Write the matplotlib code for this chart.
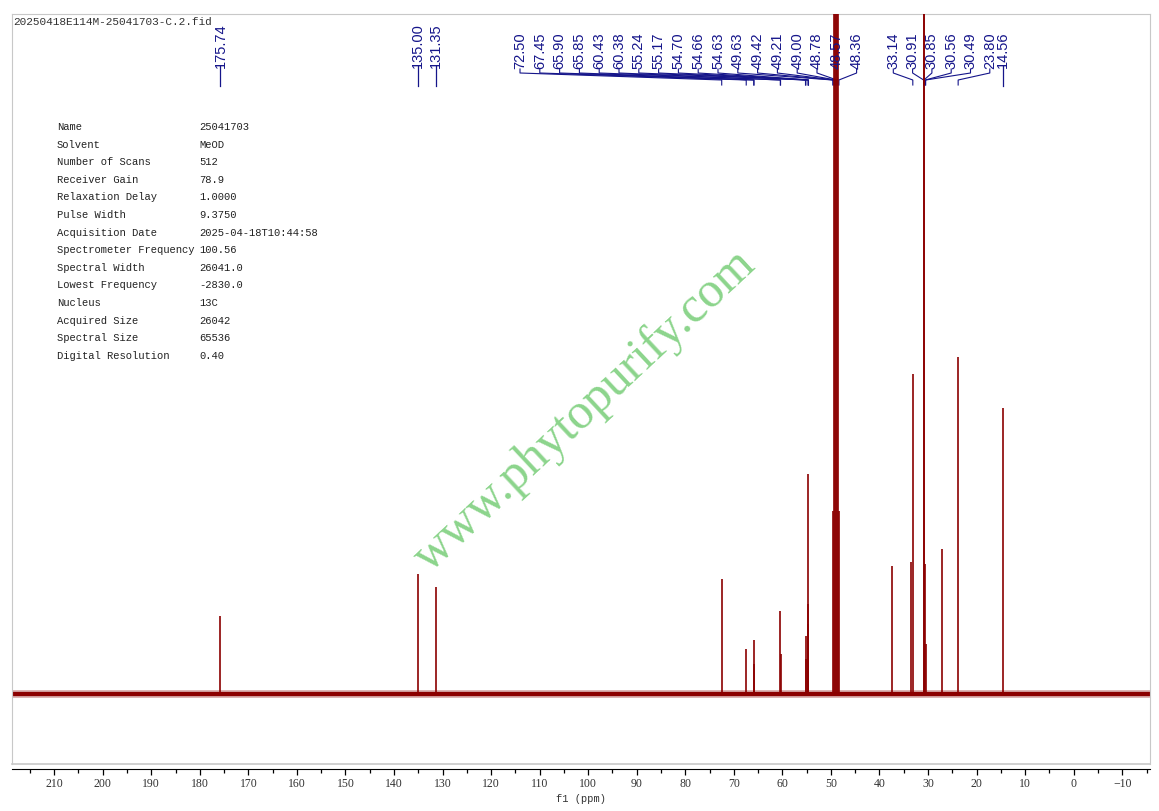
#!/usr/bin/env python3

"""Redraw a 13C NMR spectrum (25041703, MeOD) with peak labels."""

import matplotlib
matplotlib.use('Agg')
import matplotlib.pyplot as plt

# peak list: position [ppm] and height [px above baseline], big ones run off the top
peak_ppm = [175.74, 135.00, 131.35, 72.50, 67.45, 65.90, 65.85, 60.43, 60.38,
            55.24, 55.17, 54.70, 54.66, 54.63,
            49.63, 49.42, 49.21, 49.00, 48.78, 48.57, 48.36,
            37.36, 33.51, 33.14, 30.91, 30.85, 30.56, 30.49, 27.19, 23.80, 14.56]
peak_height = [78, 120, 107, 115, 45, 54, 30, 83, 40,
               58, 35, 90, 220, 70,
               183, 800, 1100, 1280, 1100, 800, 183,
               128, 132, 320, 900, 1200, 130, 50, 145, 337, 286]

# labelled peaks, grouped the way the picker printed them
single_labels = ['175.74', '135.00', '131.35', '14.56']
left_group = ['72.50', '67.45', '65.90', '65.85', '60.43', '60.38', '55.24',
              '55.17', '54.70', '54.66', '54.63', '49.63', '49.42', '49.21',
              '49.00', '48.78', '48.57', '48.36']
right_group = ['33.14', '30.91', '30.85', '30.56', '30.49', '23.80']

title = '20250418E114M-25041703-C.2.fid'
info_keys = ['Name', 'Solvent', 'Number of Scans', 'Receiver Gain',
             'Relaxation Delay', 'Pulse Width', 'Acquisition Date',
             'Spectrometer Frequency', 'Spectral Width', 'Lowest Frequency',
             'Nucleus', 'Acquired Size', 'Spectral Size', 'Digital Resolution']
info_vals = ['25041703', 'MeOD', '512', '78.9', '1.0000', '9.3750',
             '2025-04-18T10:44:58', '100.56', '26041.0', '-2830.0', '13C',
             '26042', '65536', '0.40']

# figure geometry in pixels
FIG_W, FIG_H = 1159, 812
AX_L, AX_R, AX_T, AX_B = 12, 1150, 15, 765
ZERO_PX = 1073.7     # x pixel of 0 ppm
PX_PER_PPM = 4.855
X_LO = (ZERO_PX - AX_L) / PX_PER_PPM
X_HI = (ZERO_PX - AX_R) / PX_PER_PPM

RED = '#8b0000'
BLUE = '#15158a'
GREY = '#c8c8c8'


def px2ppm(px):
    return (ZERO_PX - px) / PX_PER_PPM


def yfrac(py):
    """pixel row from top -> axes fraction"""
    return (AX_B - py) / (AX_B - AX_T)


fig = plt.figure(figsize=(FIG_W / 100, FIG_H / 100), dpi=100)
ax = fig.add_axes([AX_L / FIG_W, 1 - AX_B / FIG_H,
                   (AX_R - AX_L) / FIG_W, (AX_B - AX_T) / FIG_H])

# baseline (noise band) and the peaks
ax.axhline(0, color=RED, lw=5.5, alpha=0.35, zorder=2)
ax.axhline(0, color=RED, lw=3.0, zorder=2)
ax.vlines(peak_ppm, 0, peak_height, color=RED, lw=1.2, zorder=3)

ax.set_xlim(X_LO, X_HI)
ax.set_ylim(-(AX_B - 695), 695 - AX_T)

# frame
for side in ('top', 'left', 'right'):
    ax.spines[side].set_color(GREY)
ax.spines['bottom'].set_position(('outward', 3.6))
ax.spines['bottom'].set_color('black')
ax.plot([0, 1], [0, 0], transform=ax.transAxes, color=GREY, lw=1.2,
        clip_on=False)

ax.set_yticks([])
ax.set_xticks(range(210, -11, -10))
ax.set_xticks(range(215, -16, -5), minor=True)
ax.tick_params(axis='x', which='major', length=4.3, width=0.9, pad=1.5,
               direction='out', labelsize=8.5, labelcolor='#333333')
ax.tick_params(axis='x', which='minor', length=2.8, width=0.9, direction='out')
for lbl in ax.get_xticklabels():
    lbl.set_family('Liberation Serif')
ax.set_xlabel('f1 (ppm)', family='Liberation Mono', fontsize=7.5,
              color='#333333', labelpad=2.5)

# peak labels on top
trans = ax.get_xaxis_transform()
lab_kw = dict(rotation=90, ha='center', va='bottom', color=BLUE,
              family='Liberation Sans', fontsize=10.5, transform=trans,
              clip_on=False)

for txt in single_labels:
    pos = float(txt)
    ax.text(pos, yfrac(68), txt, **lab_kw)
    ax.plot([pos, pos], [yfrac(67), yfrac(87)], transform=trans,
            color=BLUE, lw=0.9, clip_on=False)


def label_group(labels, start_px, step_px):
    for i, txt in enumerate(labels):
        lab = px2ppm(start_px + i * step_px)
        pos = float(txt)
        ax.text(lab, yfrac(69), txt, **lab_kw)
        ax.plot([lab, lab, pos, pos],
                [yfrac(70), yfrac(74), yfrac(81), yfrac(86)],
                transform=trans, color=BLUE, lw=0.8, clip_on=False)


label_group(left_group, 520, 19.8)
label_group(right_group, 893.3, 19.3)

# header and acquisition table
fig.text(13 / FIG_W, 1 - 22 / FIG_H, title, family='Liberation Mono',
         fontsize=8, color='#333333', va='center', ha='left')
for i, (key, val) in enumerate(zip(info_keys, info_vals)):
    ypos = 1 - (127 + i * 17.6) / FIG_H
    fig.text(57 / FIG_W, ypos, key, family='Liberation Mono', fontsize=7.6,
             color='#222222', va='center')
    fig.text(199 / FIG_W, ypos, val, family='Liberation Mono', fontsize=7.6,
             color='#222222', va='center')

# watermark
fig.text(585 / FIG_W, 1 - 411 / FIG_H, 'www.phytopurify.com',
         family='Liberation Serif', fontsize=36, color='#7fd07f',
         rotation=43, ha='center', va='center', rotation_mode='anchor',
         alpha=0.9)

plt.savefig('out.png', dpi=100)
